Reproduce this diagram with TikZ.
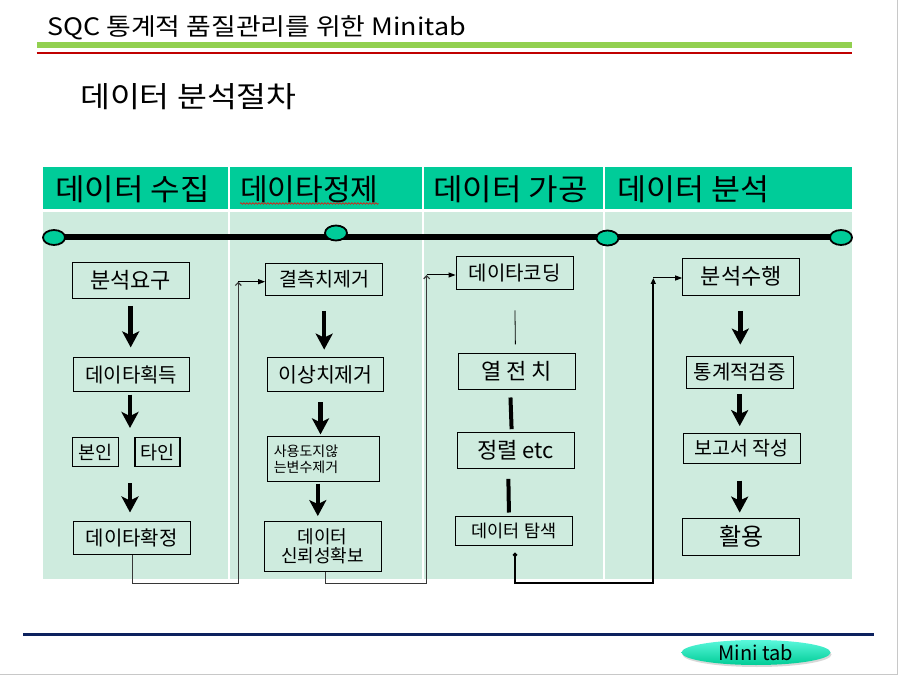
\documentclass[tikz,border=0pt]{standalone}
\usepackage{fontspec}
\setmainfont{Noto Sans CJK KR}
\usetikzlibrary{arrows.meta,calc,shapes.geometric,decorations.pathmorphing,shadows}
\definecolor{hdr}{RGB}{0,204,153}
\definecolor{bodyc}{RGB}{206,235,222}
\definecolor{barg}{RGB}{146,208,80}
\definecolor{barr}{RGB}{192,0,0}
\definecolor{navy}{RGB}{12,33,94}
\definecolor{frameg}{RGB}{200,200,200}
\definecolor{connc}{RGB}{55,55,55}
\definecolor{mttop}{RGB}{90,248,220}
\definecolor{mtbot}{RGB}{0,204,150}
\pgfdeclarelayer{bg}
\pgfdeclarelayer{mid}
\pgfsetlayers{bg,mid,main}
\newcommand{\fs}[1]{\fontsize{#1}{#1}\selectfont}
\newcommand{\wide}[2]{\scalebox{#1}[1]{#2}}
\tikzset{
  box/.style={draw=black, line width=1.2pt, inner sep=0pt, align=center},
  hdrtxt/.style={anchor=base west, inner sep=0pt, font=\fs{30}},
  ell/.style={ellipse, draw=black, line width=1.8pt, fill=hdr, minimum width=22pt, minimum height=15pt, inner sep=0pt},
  bigarr/.style={line width=4.5pt, -{Stealth[length=16pt,width=17pt,inset=4pt]}},
  thickln/.style={line width=4pt},
  thinln/.style={line width=0.8pt},
  conn/.style={connc, line width=1.2pt},
  connb/.style={black, line width=2pt},
  opentip/.style={-{Straight Barb[length=3pt,width=6pt]}},
  smalltip/.style={-{Triangle[length=7pt,width=5pt]}},
}
\begin{document}
\begin{tikzpicture}[x=1pt,y=-1pt]
\useasboundingbox (0,0) rectangle (900,676);
\begin{pgfonlayer}{bg}
\fill[white] (0,0) rectangle (900,676);
\fill[hdr] (43,167) rectangle (852,209);
\fill[bodyc] (43,212) rectangle (852,579);
\draw[white, line width=2pt] (228.5,167) -- (228.5,579);
\draw[white, line width=2pt] (423,167) -- (423,579);
\draw[white, line width=2pt] (604,167) -- (604,579);
\end{pgfonlayer}
% frame
\draw[frameg, line width=1.5pt] (897.5,0) -- (897.5,674.5) -- (0,674.5);
% title
\node[anchor=base west, inner sep=0pt, font=\fs{24}] (title) at (47,36) {\wide{1.12}{SQC 통계적 품질관리를 위한 Minitab}};
\fill[barg] (36.7,42.3) rectangle (852,47.7);
\draw[barr, line width=1.3pt] (36.7,53) -- (852,53);
\node[anchor=base west, inner sep=0pt, font=\fs{29}] (sub) at (80,108) {\wide{1.12}{데이터 분석절차}};
% header texts
\node[hdrtxt] (h1) at (55,201) {\wide{1.07}{데이터 수집}};
\node[hdrtxt] (h2) at (240,201) {\wide{1.0}{데이타정제}};
\node[hdrtxt] (h3) at (433,201) {\wide{1.07}{데이터 가공}};
\node[hdrtxt] (h4) at (617,201) {\wide{1.05}{데이터 분석}};
\draw[red, line width=0.6pt, decorate, decoration={snake, amplitude=0.8pt, segment length=3pt}]
  ($(h2.base west)+(0,2.5)$) -- ($(h2.base east)+(0,2.5)$);
% timeline
\node[ell] (e1) at (54,237.5) {};
\node[ell] (e2) at (336,233) {};
\node[ell] (e3) at (607.5,238) {};
\node[ell] (e4) at (841,237.5) {};
\begin{pgfonlayer}{mid}
\draw[line width=6pt] (e1.center) -- (e4.center);
\end{pgfonlayer}
% column 1
\node[box, minimum width=117pt, minimum height=36pt, font=\fs{22}] (req) at (130.7,280.5) {분석요구};
\node[box, minimum width=116pt, minimum height=34pt, font=\fs{20}] (acq) at (131.3,374.7) {데이타획득};
\node[box, minimum width=46pt, minimum height=29pt, font=\fs{18.5}] (self) at (95.3,452.3) {본인};
\node[box, minimum width=45pt, minimum height=29pt, font=\fs{18.5}] (other) at (157.5,452.3) {타인};
\node[box, minimum width=117pt, minimum height=33pt, font=\fs{20}] (conf) at (131.7,538.3) {데이타확정};
\coordinate (bttop) at (130,438);
\coordinate (btbot) at (130,467);
\draw[bigarr, shorten <=6.7pt, shorten >=9.7pt] (req.south) -- (req.south |- acq.north);
\draw[bigarr, shorten <=2.3pt, shorten >=10pt] (acq.south -| bttop) -- (bttop);
\draw[bigarr, shorten <=16pt, shorten >=8.7pt] (btbot) -- (btbot |- conf.north);
% column 2
\node[box, minimum width=117pt, minimum height=32pt, font=\fs{19.5}] (miss) at (324.2,279.2) {결측치제거};
\node[box, minimum width=116pt, minimum height=34pt, font=\fs{20.5}] (outl) at (325.5,374.5) {이상치제거};
\node[box, minimum width=112pt, minimum height=45pt, font=\fs{14}, align=left, text width=100pt] (unused) at (323.8,459.2) {사용도지않\\[2pt]는변수제거};
\node[box, minimum width=117pt, minimum height=50pt, font=\fs{18}] (trust) at (322.7,546.7) {데이터\\[1pt]신뢰성확보};
\draw[bigarr, shorten <=15pt, shorten >=7.3pt] (miss.south) -- (miss.south |- outl.north);
\draw[bigarr, shorten <=10pt, shorten >=1.7pt] ($(outl.south)+(-5,0)$) -- ($(outl.south |- unused.north)+(-5,0)$);
\draw[bigarr, shorten <=1.3pt, shorten >=5pt] ($(unused.south)+(-6,0)$) -- ($(unused.south |- trust.north)+(-6,0)$);
% column 3
\node[box, minimum width=117pt, minimum height=33pt, font=\fs{20}] (code) at (514.7,273.3) {데이타코딩};
\node[box, minimum width=117pt, minimum height=36pt, font=\fs{22}] (col) at (516.7,371.2) {열 전 치};
\node[box, minimum width=117pt, minimum height=36pt, font=\fs{22}] (sort) at (515.7,450.5) {정렬 etc};
\node[box, minimum width=117pt, minimum height=29pt, font=\fs{17.5}] (expl) at (514,531.3) {데이터 탐색};
\draw[thinln, shorten <=20pt, shorten >=8.3pt] (code.south) -- ($(col.north)+(-1.2,0)$);
\draw[thickln, shorten <=7.7pt, shorten >=2.7pt] ($(col.south)+(-6.5,0)$) -- ($(sort.north)+(-4,0)$);
\draw[thickln, shorten <=9.7pt, shorten >=3.7pt] ($(sort.south)+(-7.5,0)$) -- ($(expl.north)+(-5,0)$);
% column 4
\node[box, minimum width=117pt, minimum height=37pt, font=\fs{22}] (exec) at (741.3,276.7) {분석수행};
\node[box, minimum width=107pt, minimum height=32pt, font=\fs{20}] (test) at (739.7,372.2) {통계적검증};
\node[box, minimum width=117pt, minimum height=30pt, font=\fs{19.5}] (rep) at (741.7,448.3) {보고서 작성};
\node[box, minimum width=117pt, minimum height=37pt, font=\fs{24}] (use) at (741.3,536.7) {활용};
\draw[bigarr, shorten <=15pt, shorten >=11pt] ($(exec.south)+(-1,0)$) -- ($(exec.south |- test.north)+(-1,0)$);
\draw[bigarr, shorten <=5pt, shorten >=6.6pt] (test.south) -- (test.south |- rep.north);
\draw[bigarr, shorten <=16.7pt, shorten >=5pt] ($(rep.south)+(-2,0)$) -- ($(rep.south |- use.north)+(-2,0)$);
% connectors
\coordinate (k1) at (238.3,583.3);
\coordinate (j1) at (238.3,281.7);
\draw[conn, opentip] ($(conf.south)+(1,0)$) |- (k1) -- (j1);
\draw[black, line width=1pt, smalltip] (j1) -- (j1 -| miss.west);
\coordinate (k2) at (426.7,583.3);
\coordinate (j2) at (426.7,275);
\draw[conn, opentip] ($(trust.south)+(3,0)$) |- (k2) -- (j2);
\draw[black, line width=1pt, smalltip] (j2) -- (j2 -| code.west);
\coordinate (k3) at (653.3,583);
\coordinate (j3) at (653.3,278);
\draw[connb, shorten <=6pt, {Diamond[length=5pt,width=5pt]}-{Triangle[length=6pt,width=5pt]}] ($(expl.south)+(1,0)$) |- (k3) -- (j3);
\draw[black, line width=1pt, smalltip] (j3) -- (j3 -| exec.west);
% footer
\draw[navy, line width=3pt] (23,634) -- (874,634);
\node[ellipse, minimum width=149pt, minimum height=25pt, inner sep=0pt, top color=mttop, bottom color=mtbot, draw=none,
  drop shadow={shadow xshift=1pt, shadow yshift=-2pt, opacity=0.3}, font=\fs{20}] (mt) at (756,652.5) {Mini tab};
\end{tikzpicture}
\end{document}
